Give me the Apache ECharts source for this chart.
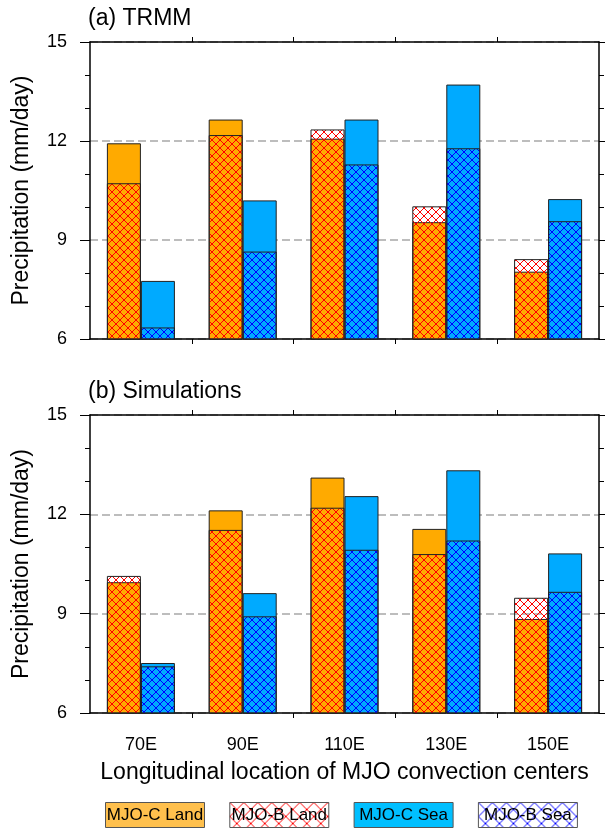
<!DOCTYPE html>
<html><head><meta charset="utf-8">
<script src="https://cdn.jsdelivr.net/npm/echarts/dist/echarts.min.js"></script>
<style>html,body{margin:0;padding:0;background:#fff}#c{width:605px;height:828px}</style>
</head><body><div id="c"></div>
<script>
// ---- data ----
const categories = ['70E', '90E', '110E', '130E', '150E'];
const trmmLandC = [11.93, 12.65, 12.07, 9.54, 8.04];
const trmmLandB = [10.72, 12.18, 12.35, 10.02, 8.42];
const trmmSeaC  = [7.76, 10.20, 12.65, 13.71, 10.24];
const trmmSeaB  = [6.35, 8.65, 11.29, 11.78, 9.57];
const simLandC  = [9.95, 12.12, 13.11, 11.56, 8.84];
const simLandB  = [10.14, 11.53, 12.20, 10.80, 9.48];
const simSeaC   = [7.51, 9.62, 12.55, 13.33, 10.82];
const simSeaB   = [7.41, 8.92, 10.93, 11.21, 9.66];
const yMin = 6, yMax = 15, yStep = 3;
const legendNames = ['MJO-C Land', 'MJO-B Land', 'MJO-C Sea', 'MJO-B Sea'];
const panelTitles = ['(a) TRMM', '(b) Simulations'];
const yTitle = 'Precipitation (mm/day)';
const xTitle = 'Longitudinal location of MJO convection centers';

// ---- styles ----
const FONT = '"Liberation Sans", Arial, Helvetica, sans-serif';
const ORANGE = '#FFAA00', BLUE = '#00AAFF';
const ORANGE_L = '#FFC04D', BLUE_L = '#00BFFF';

function hatch(color, size, lw) {
  const c = document.createElement('canvas');
  c.width = size; c.height = size;
  const g = c.getContext('2d');
  g.strokeStyle = color; g.lineWidth = lw;
  g.beginPath();
  for (const o of [-size, 0, size]) {
    g.moveTo(o, 0); g.lineTo(o + size, size);
    g.moveTo(o + size, 0); g.lineTo(o, size);
  }
  g.stroke();
  return c;
}
const redHatch = { image: hatch('#FF0000', 8, 1), repeat: 'repeat' };
const blueHatch = { image: hatch('#0000FF', 8, 1), repeat: 'repeat' };
const redHatchL = { image: hatch('#FF0000', 14, 1), repeat: 'repeat' };
const blueHatchL = { image: hatch('#0000FF', 14, 1), repeat: 'repeat' };

const catNum = categories.map(c => parseFloat(c));
const stepX = catNum[1] - catNum[0];
const boundaries = catNum.slice(0, -1).map((v, i) => (v + catNum[i + 1]) / 2);

const grids = [
  { left: 90, top: 42, width: 509, height: 297 },
  { left: 90, top: 415, width: 509, height: 298 }
];

function xAxes(g) {
  const c = {
    type: 'category', gridIndex: g, data: categories,
    axisLine: { onZero: false, lineStyle: { color: '#000', width: 1.5 } },
    splitLine: { show: false }
  };
  const last = g === grids.length - 1;
  const minorC = {
    type: 'value', gridIndex: g, min: catNum[0] - stepX / 2, max: catNum[catNum.length - 1] + stepX / 2,
    axisLine: { show: false }, splitLine: { show: false }, axisLabel: { show: false },
    axisTick: { show: true, length: 5, customValues: boundaries, lineStyle: { color: '#000', width: 1 } }
  };
  return [
    Object.assign({}, c, {
      position: 'bottom',
      axisTick: { alignWithLabel: true, interval: 0, length: 10, lineStyle: { color: '#000', width: 1 } },
      axisLabel: { show: last, margin: 23, color: '#000', fontSize: 18, fontFamily: FONT, interval: 0 },
      name: last ? xTitle : '', nameLocation: 'middle', nameGap: 48.5,
      nameTextStyle: { color: '#000', fontSize: 23, fontFamily: FONT }
    }),
    Object.assign({}, c, {
      position: 'top',
      axisTick: { alignWithLabel: true, interval: 0, length: 10, lineStyle: { color: '#000', width: 1 } },
      axisLabel: { show: false }
    }),
    Object.assign({}, minorC, { position: 'bottom' }),
    Object.assign({}, minorC, { position: 'top' })
  ];
}

function yAxes(g) {
  const c = {
    type: 'value', gridIndex: g, min: yMin, max: yMax, interval: yStep,
    axisLine: { show: true, lineStyle: { color: '#000', width: 1.5 } },
    axisTick: { show: true, inside: false, length: 10, lineStyle: { color: '#000', width: 1 } },
    minorTick: { show: true, splitNumber: 3, length: 5, lineStyle: { color: '#000', width: 1 } },
    minorSplitLine: { show: false }
  };
  return [
    Object.assign({}, c, {
      position: 'left',
      axisLabel: { margin: 23, color: '#000', fontSize: 18, fontFamily: FONT },
      splitLine: { show: true, lineStyle: { color: '#a8a8a8', width: 1.5, type: [8, 4] } },
      name: yTitle, nameLocation: 'middle', nameGap: 57,
      nameTextStyle: { color: '#000', fontSize: 23, fontFamily: FONT }
    }),
    Object.assign({}, c, { position: 'right', axisLabel: { show: false }, splitLine: { show: false } })
  ];
}

function panelSeries(g, landC, landB, seaC, seaB) {
  const xa = g * 4, ya = g * 2;
  const mk = (name, xi, data, color) => ({
    type: 'bar', name: name, xAxisIndex: xi, yAxisIndex: ya, data: data,
    barWidth: 34, barGap: 0, clip: true,
    itemStyle: { color: color, borderColor: '#222', borderWidth: 1 },
    emphasis: { disabled: true }
  });
  return [
    mk(legendNames[0], xa, landC, ORANGE),
    mk(legendNames[2], xa, seaC, BLUE),
    mk(legendNames[1], xa + 1, landB, redHatch),
    mk(legendNames[3], xa + 1, seaB, blueHatch)
  ];
}

const legendFills = [ORANGE_L, redHatchL, BLUE_L, blueHatchL];
const legendGraphics = legendNames.map((n, i) => ({
  type: 'group', left: 105 + i * 124.3, top: 802,
  children: [
    { type: 'rect', shape: { x: 0, y: 0, width: 99, height: 25 },
      style: { fill: legendFills[i], stroke: '#555', lineWidth: 1 } },
    { type: 'text', x: 49.5, y: 13,
      style: { text: n, font: '17px ' + FONT, fill: '#000',
        textAlign: 'center', textVerticalAlign: 'middle', align: 'center', verticalAlign: 'middle' } }
  ]
}));

const chart = echarts.init(document.getElementById('c'), null, { renderer: 'canvas' });
chart.setOption({
  animation: false,
  backgroundColor: '#fff',
  title: [
    { text: panelTitles[0], left: 88, top: 7.5, padding: 0,
      textStyle: { fontSize: 23, fontWeight: 'normal', color: '#000', fontFamily: FONT } },
    { text: panelTitles[1], left: 88, top: 380, padding: 0,
      textStyle: { fontSize: 23, fontWeight: 'normal', color: '#000', fontFamily: FONT } }
  ],
  grid: grids,
  xAxis: xAxes(0).concat(xAxes(1)),
  yAxis: yAxes(0).concat(yAxes(1)),
  series: panelSeries(0, trmmLandC, trmmLandB, trmmSeaC, trmmSeaB)
    .concat(panelSeries(1, simLandC, simLandB, simSeaC, simSeaB)),
  graphic: legendGraphics
});
</script>
</body></html>
